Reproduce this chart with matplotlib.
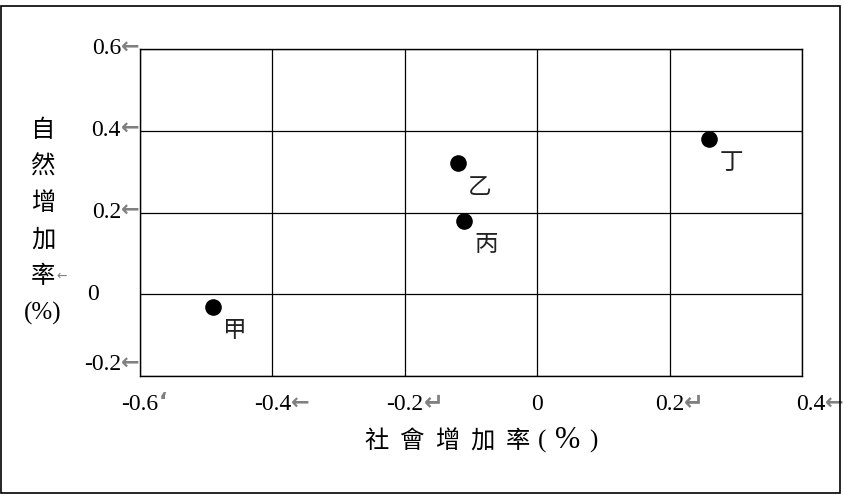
import matplotlib
matplotlib.use("Agg")
import matplotlib.pyplot as plt
from matplotlib.patches import Rectangle
from matplotlib.transforms import blended_transform_factory, offset_copy

# 資料
names = ["甲", "乙", "丙", "丁"]
social = [-0.49, -0.12, -0.11, 0.26]      # 社會增加率 (%)
natural = [-0.03, 0.32, 0.18, 0.38]       # 自然增加率 (%)

xticks = [-0.6, -0.4, -0.2, 0.0, 0.2, 0.4]
xtick_labels = ["-0.6", "-0.4", "-0.2", "0", "0.2", "0.4"]
xtick_marks = ["\u2018", "←", "↵", "", "↵", "←"]

yticks = [-0.2, 0.0, 0.2, 0.4, 0.6]
ytick_labels = ["-0.2", "0", "0.2", "0.4", "0.6"]
ytick_marks = ["←", "", "←", "←", "←"]

xlabel_chars = ["社", "會", "增", "加", "率"]
ylabel_chars = ["自", "然", "增", "加", "率", "(%)"]

NUM_FONT = ["Liberation Serif", "DejaVu Sans"]
CJK_FONT = ["Noto Sans CJK TC", "DejaVu Sans"]
MARK_FONT = ["DejaVu Sans"]
MARK_COLOR = "#808080"

W, H = 844, 499
fig = plt.figure(figsize=(W / 100, H / 100), dpi=100)

# 外框
fig.patches.append(Rectangle((1 / W, 6 / H), 839 / W, 487 / H, transform=fig.transFigure,
                             fill=False, edgecolor="black", linewidth=1.2))

ax = fig.add_axes([140 / W, (H - 376) / H, 662 / W, 327 / H])
ax.set_xlim(-0.6, 0.4)
ax.set_ylim(-0.2, 0.6)
ax.set_xticks(xticks)
ax.set_yticks(yticks)
ax.tick_params(length=0, labelbottom=False, labelleft=False)
ax.grid(True, color="black", linewidth=0.9)
ax.set_axisbelow(True)
for s in ax.spines.values():
    s.set_linewidth(1.0)

ax.scatter(social, natural, s=120, color="black", zorder=3)
for n, x, y in zip(names, social, natural):
    ax.annotate(n, (x, y), xytext=(16, -17), textcoords="offset points",
                ha="center", va="center", fontsize=17, family=CJK_FONT,
                fontweight="light", color="#222222")

# x 軸刻度文字
tx = blended_transform_factory(ax.transData, ax.transAxes)
for v, lab, mk in zip(xticks, xtick_labels, xtick_marks):
    dx = 6 if v == 0.4 else 0
    t = ax.text(v, 0, lab, transform=offset_copy(tx, fig=fig, x=dx, y=-29 * 0.72, units="points"),
                ha="center", va="center", fontsize=17, family=NUM_FONT)
    if mk:
        ax.annotate(mk, xy=(1.0, 0.62), xycoords=t, ha="left", va="center",
                    fontsize=17 if mk == "↵" else 16, fontweight="bold",
                    family=MARK_FONT, color=MARK_COLOR)

# y 軸刻度文字
ty = blended_transform_factory(ax.transAxes, ax.transData)
for v, lab, mk in zip(yticks, ytick_labels, ytick_marks):
    dy = 8 if v == -0.2 else 0
    if mk:
        t = ax.text(0, v, lab, transform=offset_copy(ty, fig=fig, x=-19 * 0.72, y=dy, units="points"),
                    ha="right", va="center", fontsize=17, family=NUM_FONT)
        ax.annotate(mk, xy=(1.0, 0.62), xycoords=t, ha="left", va="center",
                    fontsize=16, fontweight="bold", family=MARK_FONT, color=MARK_COLOR)
    else:
        ax.text(0, v, lab, transform=offset_copy(ty, fig=fig, x=-47 * 0.72, units="points"),
                ha="center", va="center", fontsize=17, family=NUM_FONT)

# 座標軸標題 (字距較寬)
yx = 1 - 441 / H
for i, ch in enumerate(xlabel_chars):
    fig.text((376 + 35.5 * i) / W, yx, ch, ha="center", va="center", fontsize=17.5,
             family=CJK_FONT, fontweight="light")
fig.text(542 / W, yx, "(", ha="center", va="center", fontsize=18, family=NUM_FONT)
fig.text(568 / W, yx, "%", ha="center", va="center", fontsize=22, family=NUM_FONT)
fig.text(593 / W, yx, ")", ha="center", va="center", fontsize=18, family=NUM_FONT)

for i, ch in enumerate(ylabel_chars):
    yc = 130 + 36.6 * i
    fig.text(43 / W, 1 - yc / H, ch, ha="center", va="center",
             fontsize=17.5 if ch != "(%)" else 18,
             family=CJK_FONT if ch != "(%)" else NUM_FONT, fontweight="light")
    if ch == "率":
        fig.text(56 / W, 1 - yc / H, "←", ha="left", va="center", fontsize=9,
                 family=MARK_FONT, color=MARK_COLOR)

fig.savefig("out.png", dpi=100)
